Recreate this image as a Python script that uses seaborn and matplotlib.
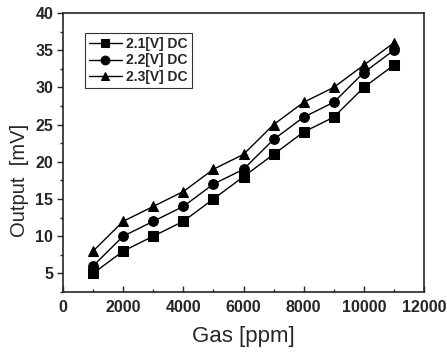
import pandas as pd
import matplotlib
matplotlib.use("Agg")
import matplotlib.pyplot as plt
import matplotlib.ticker as ticker
import seaborn as sns

# values
gas_ppm = [1000, 2000, 3000, 4000, 5000, 6000, 7000, 8000, 9000, 10000, 11000]
out_21 = [5, 8, 10, 12, 15, 18, 21, 24, 26, 30, 33]
out_22 = [6, 10, 12, 14, 17, 19, 23, 26, 28, 32, 35]
out_23 = [8, 12, 14, 16, 19, 21, 25, 28, 30, 33, 36]
series_names = ["2.1[V] DC", "2.2[V] DC", "2.3[V] DC"]

df = pd.DataFrame({
    "gas": gas_ppm * 3,
    "output": out_21 + out_22 + out_23,
    "series": [s for s in series_names for _ in gas_ppm],
})

sns.set_style("ticks")
plt.rcParams["font.family"] = ["Liberation Sans", "DejaVu Sans"]

fig = plt.figure(figsize=(4.47, 3.53), dpi=100)
ax = fig.add_axes([63 / 447, 1 - 292 / 353, (424 - 63) / 447, (292 - 13) / 353])

sns.lineplot(data=df, x="gas", y="output", hue="series", style="series",
             palette=["black"] * 3, markers=["s", "o", "^"], dashes=False,
             markersize=7, markeredgecolor="black", linewidth=1.0, ax=ax)

ax.set_xlim(0, 12000)
ax.set_ylim(2.5, 40)
ax.xaxis.set_major_locator(ticker.MultipleLocator(2000))
ax.xaxis.set_minor_locator(ticker.MultipleLocator(1000))
ax.yaxis.set_major_locator(ticker.MultipleLocator(5))
ax.yaxis.set_minor_locator(ticker.MultipleLocator(2.5))
ax.tick_params(axis="x", which="both", direction="in", pad=6)
ax.tick_params(axis="y", which="both", direction="out", pad=3)
ax.tick_params(which="both", width=1, labelsize=11.5)
ax.tick_params(which="major", length=4)
ax.tick_params(which="minor", length=2)
for lab in ax.get_xticklabels() + ax.get_yticklabels():
    lab.set_fontweight("bold")
for sp in ax.spines.values():
    sp.set_linewidth(1.2)
    sp.set_visible(True)

ax.set_xlabel("Gas [ppm]", fontsize=16, labelpad=8)
ax.set_ylabel("Output  [mV]", fontsize=14.5)
ax.yaxis.set_label_coords(-0.095, 0.40)

leg = ax.legend(loc="upper left", bbox_to_anchor=(0.06, 0.93), frameon=True,
                fancybox=False, edgecolor="black", handlelength=2.4,
                borderpad=0.3, labelspacing=0.2, handletextpad=0.3,
                borderaxespad=0, markerscale=0.9,
                prop={"size": 10, "weight": "bold"})
leg.get_frame().set_linewidth(0.8)

plt.savefig("out.png", dpi=100)
